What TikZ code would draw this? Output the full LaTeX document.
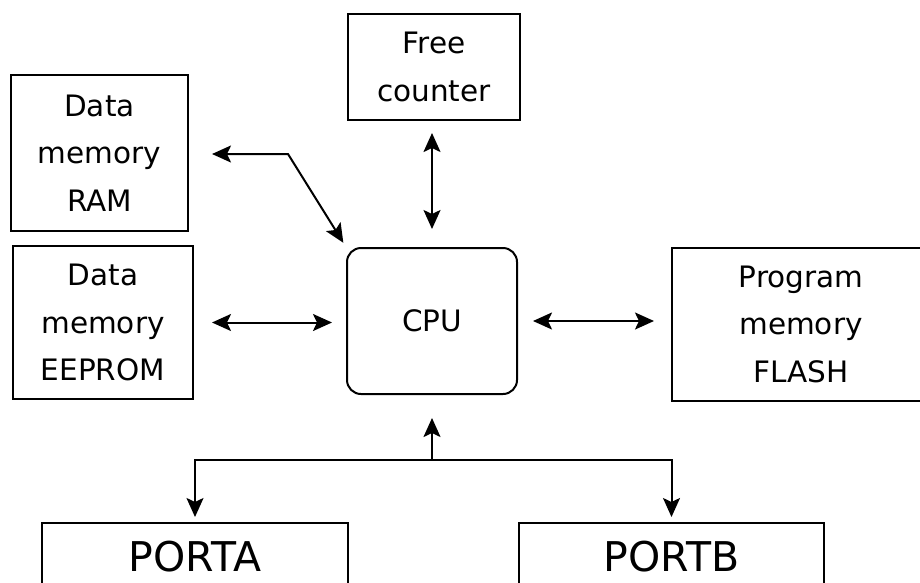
\documentclass[tikz,border=0pt]{standalone}
\usepackage{fontspec}
\setmainfont{DejaVu Sans}
\usetikzlibrary{arrows.meta,calc}
\tikzset{
  blk/.style={draw, line width=2pt, inner sep=0pt, align=center,
    font=\fontsize{29.5}{47.5}\selectfont},
  bigblk/.style={draw, line width=2pt, inner sep=0pt, align=center,
    font=\fontsize{41}{49}\selectfont},
  conn/.style={line width=2pt,
    {Stealth[length=19pt,width=17pt,inset=4pt]}-{Stealth[length=19pt,width=17pt,inset=4pt]}},
  oneway/.style={line width=2pt, -{Stealth[length=19pt,width=17pt,inset=4pt]}},
}
\begin{document}
\begin{tikzpicture}[x=1pt,y=-1pt]
\useasboundingbox (0,0) rectangle (920,582);
\fill[white] (0,0) rectangle (920,582);
\node[blk, minimum width=177pt, minimum height=156pt] (ram) at (99.5,153) {Data\\memory\\RAM};
\node[blk, minimum width=180pt, minimum height=153pt] (eep) at (103,322.5) {Data\\memory\\EEPROM};
\node[blk, minimum width=172pt, minimum height=106pt] (fc) at (434,67) {Free\\counter};
\node[blk, minimum width=170pt, minimum height=146pt, rounded corners=14pt] (cpu) at (432,321) {CPU};
\node[blk, minimum width=258pt, minimum height=153pt] (flash) at (801,324) {Program\\memory\\FLASH};
\node[bigblk, minimum width=306pt, minimum height=68pt] (porta) at (195,557) {PORTA};
\node[bigblk, minimum width=305pt, minimum height=68pt] (portb) at (671.5,557) {PORTB};
\coordinate (bend) at (288,154);
\coordinate (bus) at (432,460);
\draw[conn, shorten <=23pt, shorten >=5pt] (ram.east |- bend) -- (bend) -- (cpu.north west);
\draw[conn, shorten <=18pt, shorten >=14pt] (eep.east) -- (eep.east -| cpu.west);
\draw[conn, shorten <=12pt, shorten >=18pt] (cpu.north |- fc.south) -- (cpu.north);
\draw[conn, shorten <=15pt, shorten >=17pt] (cpu.east) -- (cpu.east -| flash.west);
\draw[oneway, shorten >=23pt] (bus) -- (cpu.south);
\draw[oneway, shorten >=5pt] (bus) -| (porta.north);
\draw[oneway, shorten >=5pt] (bus) -| (portb.north);
\end{tikzpicture}
\end{document}
